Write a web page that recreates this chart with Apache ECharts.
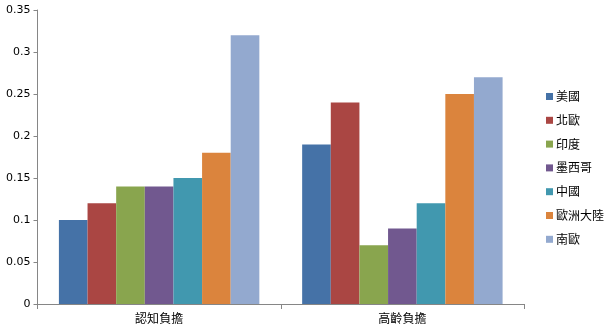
<!DOCTYPE html>
<html><head><meta charset="utf-8">
<script src="https://cdn.jsdelivr.net/npm/echarts@6/dist/echarts.min.js"></script>
<style>html,body{margin:0;padding:0;background:#fff}#c{width:614px;height:333px}</style>
</head><body><div id="c"></div>
<script>
const categories = ['認知負擔', '高齡負擔'];
const seriesNames = ['美國', '北歐', '印度', '墨西哥', '中國', '歐洲大陸', '南歐'];
const v_us = [0.10, 0.19];
const v_nordic = [0.12, 0.24];
const v_india = [0.14, 0.07];
const v_mexico = [0.14, 0.09];
const v_china = [0.15, 0.12];
const v_europe = [0.18, 0.25];
const v_south = [0.32, 0.27];
const yTicks = [0, 0.05, 0.1, 0.15, 0.2, 0.25, 0.3, 0.35];
const values = [v_us, v_nordic, v_india, v_mexico, v_china, v_europe, v_south];
const colors = ['#4572A7', '#AA4643', '#89A54E', '#71588F', '#4198AF', '#DB843D', '#93A9CF'];
const font = '"Noto Sans CJK TC", "DejaVu Sans", sans-serif';
const chart = echarts.init(document.getElementById('c'));
chart.setOption({
  animation: false,
  color: colors,
  textStyle: {fontFamily: font},
  grid: {left: 37.5, right: 90, top: 10, bottom: 29, containLabel: false},
  legend: {
    orient: 'vertical', left: 541, top: 83, itemWidth: 7, itemHeight: 7, itemGap: 6.8,
    icon: 'rect', textStyle: {fontSize: 12, color: '#000', fontFamily: font, lineHeight: 17, padding: [0, 0, 0, -2]},
    data: seriesNames
  },
  xAxis: {
    type: 'category', data: categories,
    axisLine: {lineStyle: {color: '#868686'}},
    axisTick: {show: true, length: 5, lineStyle: {color: '#868686'}},
    axisLabel: {color: '#000', fontSize: 12, margin: 8, fontFamily: font}
  },
  yAxis: {
    type: 'value', min: 0, max: 0.35, interval: 0.05,
    axisLine: {show: true, lineStyle: {color: '#868686'}},
    axisTick: {show: true, length: 4, lineStyle: {color: '#868686'}},
    splitLine: {show: false},
    axisLabel: {color: '#000', fontSize: 11, margin: 7, fontFamily: '"DejaVu Sans", sans-serif',
      formatter: v => { const t = yTicks.find(x => Math.abs(x - v) < 1e-9); return t === undefined ? '' : String(+t.toFixed(2)); }}
  },
  series: seriesNames.map((n, i) => ({
    name: n, type: 'bar', data: values[i], barGap: '0%', barCategoryGap: '17.6%'
  }))
});
</script></body></html>
